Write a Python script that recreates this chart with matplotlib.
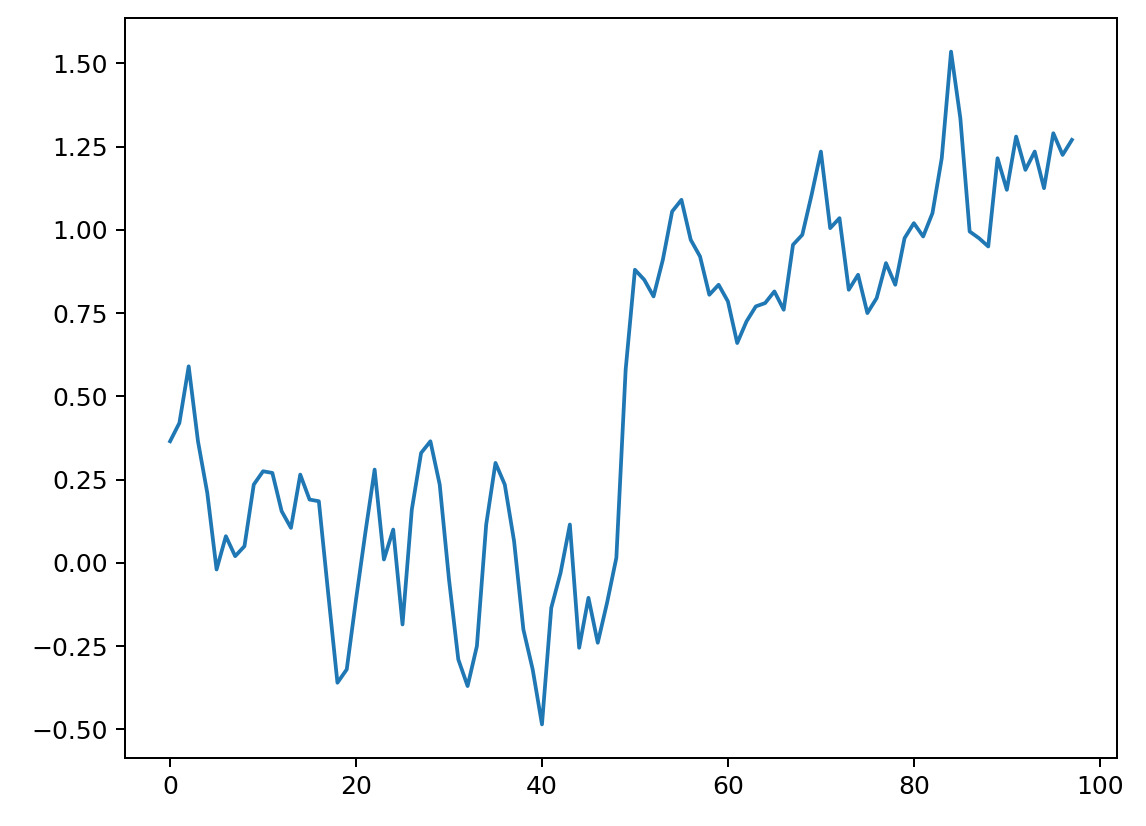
import matplotlib
matplotlib.use('Agg')
import matplotlib.pyplot as plt

values = [0.365, 0.42, 0.59, 0.365, 0.21, -0.02, 0.08, 0.02, 0.05, 0.235,
          0.275, 0.27, 0.155, 0.105, 0.265, 0.19, 0.185, -0.09, -0.36, -0.32,
          -0.11, 0.09, 0.28, 0.01, 0.10, -0.185, 0.16, 0.33, 0.365, 0.235,
          -0.05, -0.29, -0.37, -0.25, 0.115, 0.30, 0.235, 0.065, -0.20, -0.32,
          -0.485, -0.135, -0.03, 0.115, -0.255, -0.105, -0.24, -0.12, 0.015, 0.58,
          0.88, 0.85, 0.80, 0.91, 1.055, 1.09, 0.97, 0.92, 0.805, 0.835,
          0.785, 0.66, 0.725, 0.77, 0.78, 0.815, 0.76, 0.955, 0.985, 1.105,
          1.235, 1.005, 1.035, 0.82, 0.865, 0.75, 0.795, 0.9, 0.835, 0.975,
          1.02, 0.98, 1.05, 1.215, 1.535, 1.335, 0.995, 0.975, 0.95, 1.215,
          1.12, 1.28, 1.18, 1.235, 1.125, 1.29, 1.225, 1.27]

fig = plt.figure(figsize=(1146 / 180, 826 / 180), dpi=180)
ax = fig.add_axes([125 / 1146, 1 - 758 / 826, (1117 - 125) / 1146, (758 - 18) / 826])
ax.plot(range(len(values)), values)
fig.savefig('out.png', dpi=180)
